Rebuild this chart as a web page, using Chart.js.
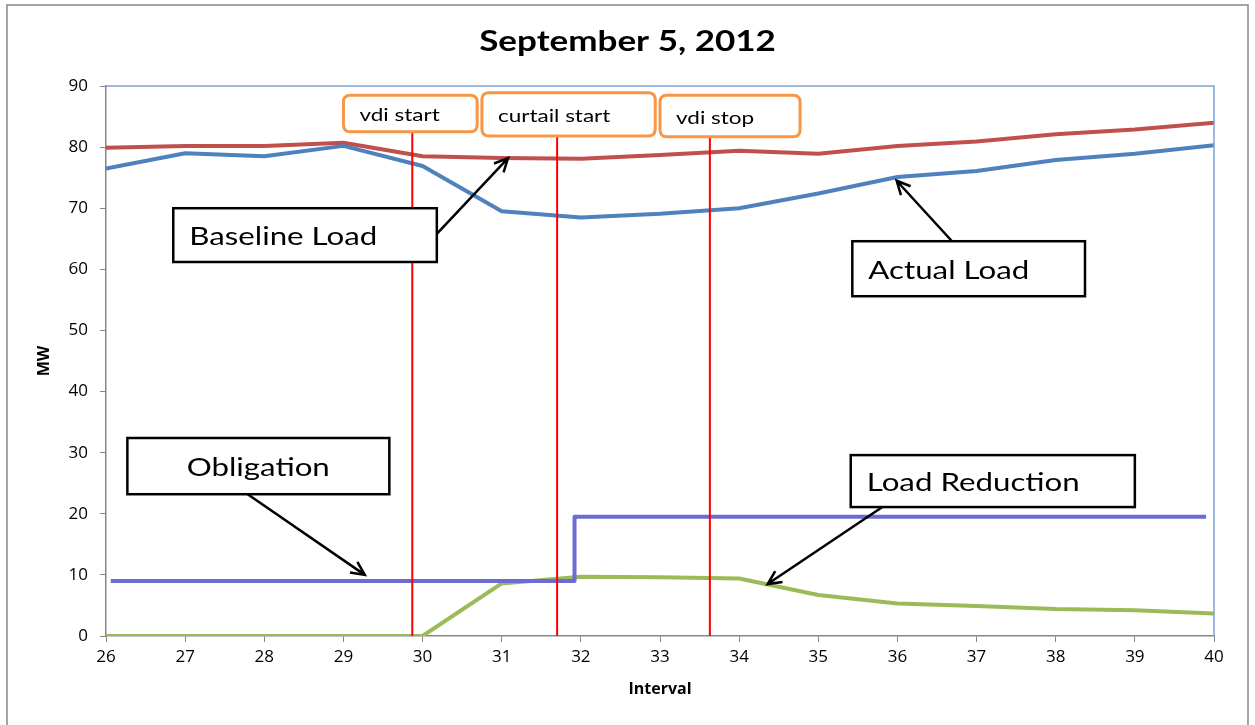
<!DOCTYPE html>
<html>
<head>
<meta charset="utf-8">
<script src="https://cdn.jsdelivr.net/npm/chart.js@4/dist/chart.umd.min.js"></script>
<style>
  body { margin: 0; background: #fff; }
  #wrap { width: 1255px; height: 725px; position: relative; }
</style>
</head>
<body>
<div id="wrap"><canvas id="chart"></canvas></div>
<script>
// データ
const intervals = [26, 27, 28, 29, 30, 31, 32, 33, 34, 35, 36, 37, 38, 39, 40];
const baselineLoad = [79.9, 80.2, 80.2, 80.7, 78.5, 78.2, 78.1, 78.7, 79.4, 78.9, 80.2, 80.9, 82.1, 82.9, 84.0];
const actualLoad = [76.5, 79.0, 78.5, 80.2, 76.9, 69.5, 68.5, 69.1, 70.0, 72.4, 75.1, 76.1, 77.9, 78.9, 80.3];
const loadReduction = [0, 0, 0, 0, 0, 8.6, 9.7, 9.6, 9.4, 6.7, 5.3, 4.9, 4.4, 4.2, 3.7];
const obligationX = [26.06, 31.92, 31.92, 39.9];
const obligationY = [9.0, 9.0, 19.5, 19.5];
const eventNames = ['vdi start', 'curtail start', 'vdi stop'];
const eventX = [29.87, 31.70, 33.63];
const eventTop = [82.5, 81.8, 81.7];
const yTicks = [0, 10, 20, 30, 40, 50, 60, 70, 80, 90];

// 注記の位置 (データ単位)
const eventBoxes = [
  { x0: 29.0, x1: 30.69, y0: 88.5, y1: 82.5 },
  { x0: 30.75, x1: 32.94, y0: 88.9, y1: 81.8 },
  { x0: 33.0, x1: 34.77, y0: 88.5, y1: 81.7 }
];
const callouts = [
  { text: 'Baseline Load', x0: 26.85, x1: 30.18, y0: 70.0, y1: 61.2, from: [30.18, 65.8], to: [31.08, 78.2] },
  { text: 'Actual Load', x0: 35.43, x1: 38.37, y0: 64.6, y1: 55.6, from: [36.69, 64.6], to: [35.99, 74.5] },
  { text: 'Obligation', x0: 26.27, x1: 29.58, y0: 32.4, y1: 23.2, from: [27.79, 23.2], to: [29.27, 10.0], textX: 27.02 },
  { text: 'Load Reduction', x0: 35.41, x1: 39.0, y0: 29.6, y1: 21.1, from: [35.81, 21.1], to: [34.36, 8.5] }
];

const FONT = 'Lato, "Open Sans", sans-serif';
const AXIS_FONT = '"Open Sans", sans-serif';
const STRETCH = 1.25; // 元画像は横に引き伸ばされている

function pts(xs, ys) {
  return xs.map((x, i) => ({ x: x, y: ys[i] }));
}

function roundRect(ctx, x, y, w, h, r) {
  ctx.beginPath();
  ctx.moveTo(x + r, y);
  ctx.lineTo(x + w - r, y);
  ctx.quadraticCurveTo(x + w, y, x + w, y + r);
  ctx.lineTo(x + w, y + h - r);
  ctx.quadraticCurveTo(x + w, y + h, x + w - r, y + h);
  ctx.lineTo(x + r, y + h);
  ctx.quadraticCurveTo(x, y + h, x, y + h - r);
  ctx.lineTo(x, y + r);
  ctx.quadraticCurveTo(x, y, x + r, y);
  ctx.closePath();
}

function arrow(ctx, x0, y0, x1, y1) {
  const a = Math.atan2(y1 - y0, x1 - x0);
  const len = 15;
  ctx.beginPath();
  ctx.moveTo(x0, y0);
  ctx.lineTo(x1, y1);
  ctx.moveTo(x1 - len * Math.cos(a - 0.45), y1 - len * Math.sin(a - 0.45));
  ctx.lineTo(x1, y1);
  ctx.lineTo(x1 - len * Math.cos(a + 0.45), y1 - len * Math.sin(a + 0.45));
  ctx.stroke();
}

function stretchedText(ctx, text, x, y, font, align) {
  ctx.save();
  ctx.translate(x, y);
  ctx.scale(STRETCH, 1);
  ctx.font = font;
  ctx.textAlign = align;
  ctx.textBaseline = 'middle';
  ctx.fillStyle = '#000';
  ctx.fillText(text, 0, 0);
  ctx.restore();
}

// 枠・注記・タイトルの描画
const decor = {
  id: 'decor',
  afterDatasetsDraw(chart) {
    const ctx = chart.ctx;
    const xs = chart.scales.x, ys = chart.scales.y;
    const area = chart.chartArea;
    ctx.save();

    // プロットエリアの上・右の枠
    ctx.strokeStyle = '#7FA3D6';
    ctx.lineWidth = 1.5;
    ctx.beginPath();
    ctx.moveTo(area.left, area.top);
    ctx.lineTo(area.right, area.top);
    ctx.lineTo(area.right, area.bottom);
    ctx.stroke();

    // オレンジのイベントラベル
    eventBoxes.forEach((b, i) => {
      const x = xs.getPixelForValue(b.x0), y = ys.getPixelForValue(b.y0);
      const w = xs.getPixelForValue(b.x1) - x, h = ys.getPixelForValue(b.y1) - y;
      roundRect(ctx, x, y, w, h, 7);
      ctx.fillStyle = '#fff';
      ctx.fill();
      ctx.strokeStyle = '#F79646';
      ctx.lineWidth = 3;
      ctx.stroke();
      stretchedText(ctx, eventNames[i], x + 16, y + h / 2 + 2, '18px ' + FONT, 'left');
    });

    // 吹き出しボックスと矢印
    callouts.forEach(c => {
      const x = xs.getPixelForValue(c.x0), y = ys.getPixelForValue(c.y0);
      const w = xs.getPixelForValue(c.x1) - x, h = ys.getPixelForValue(c.y1) - y;
      ctx.fillStyle = '#fff';
      ctx.fillRect(x, y, w, h);
      ctx.strokeStyle = '#000';
      ctx.lineWidth = 2.5;
      ctx.strokeRect(x, y, w, h);
      const tx = c.textX !== undefined ? xs.getPixelForValue(c.textX) : x + 16;
      stretchedText(ctx, c.text, tx, y + h / 2 + 2, '25px ' + FONT, 'left');
      ctx.strokeStyle = '#000';
      ctx.lineWidth = 2.5;
      arrow(ctx,
        xs.getPixelForValue(c.from[0]), ys.getPixelForValue(c.from[1]),
        xs.getPixelForValue(c.to[0]), ys.getPixelForValue(c.to[1]));
    });

    // タイトル
    stretchedText(ctx, 'September 5, 2012', chart.width / 2, 42, 'bold 28px ' + FONT, 'center');

    // 外枠
    ctx.strokeStyle = '#888';
    ctx.lineWidth = 1.5;
    ctx.strokeRect(7, 5, 1241, 730);
    ctx.restore();
  }
};

const datasets = [
  {
    label: 'Baseline Load', data: pts(intervals, baselineLoad),
    borderColor: '#C0504D', borderWidth: 4, order: 5
  },
  {
    label: 'Actual Load', data: pts(intervals, actualLoad),
    borderColor: '#4F81BD', borderWidth: 4, order: 4
  },
  {
    label: 'Load Reduction', data: pts(intervals, loadReduction),
    borderColor: '#9BBB59', borderWidth: 4, order: 3
  },
  {
    label: 'Obligation', data: pts(obligationX, obligationY),
    borderColor: '#6B6BD3', borderWidth: 4, order: 2
  }
];
eventX.forEach((x, i) => {
  datasets.push({
    label: eventNames[i], data: [{ x: x, y: 0 }, { x: x, y: eventTop[i] }],
    borderColor: '#FF0000', borderWidth: 2, order: 1
  });
});
datasets.forEach(d => {
  d.showLine = true;
  d.pointRadius = 0;
  d.pointHoverRadius = 0;
  d.tension = 0;
  d.borderJoinStyle = 'round';
});

let ctx = document.getElementById('chart').getContext('2d');
let chart = new Chart(ctx, {
  type: 'scatter',
  data: { datasets: datasets },
  options: {
    responsive: true,
    maintainAspectRatio: false,
    animation: false,
    layout: { padding: { top: 86, right: 41, left: 0, bottom: 0 } },
    plugins: { legend: { display: false }, tooltip: { enabled: false } },
    scales: {
      x: {
        type: 'linear', min: 26, max: 40,
        afterBuildTicks: s => { s.ticks = intervals.map(v => ({ value: v })); },
        afterFit: s => { s.height = 89; },
        ticks: { color: '#000', font: { family: AXIS_FONT, size: 17 }, padding: 5 },
        grid: { drawOnChartArea: false, tickLength: 6, color: '#868686' },
        border: { color: '#868686', width: 1.5 },
        title: { display: true, text: 'Interval', color: '#000',
          font: { family: AXIS_FONT, size: 16, weight: 'bold' }, padding: { top: 0, bottom: 26 } }
      },
      y: {
        min: 0, max: 90,
        afterBuildTicks: s => { s.ticks = yTicks.map(v => ({ value: v })); },
        afterFit: s => { s.width = 106; },
        ticks: { color: '#000', font: { family: AXIS_FONT, size: 17 }, padding: 12 },
        grid: { drawOnChartArea: false, tickLength: 6, color: '#868686' },
        border: { color: '#868686', width: 1.5 },
        title: { display: true, text: 'MW', color: '#000',
          font: { family: AXIS_FONT, size: 16, weight: 'bold' }, padding: { top: 35, bottom: 0 } }
      }
    }
  },
  plugins: [decor]
});
</script>
</body>
</html>
